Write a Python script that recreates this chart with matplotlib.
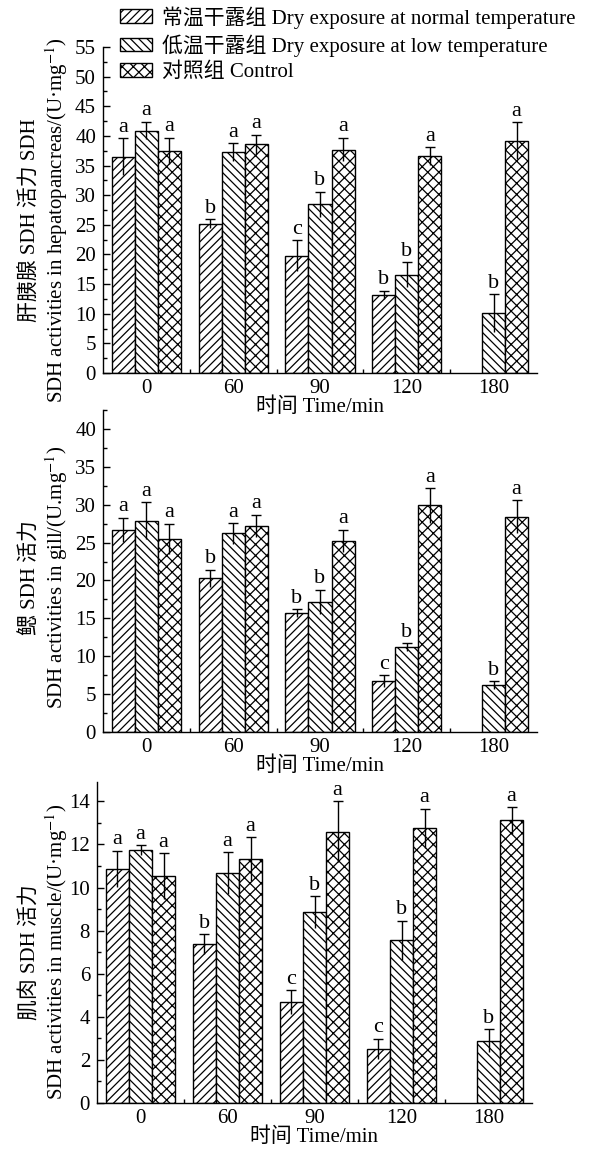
import numpy as np
import matplotlib
matplotlib.use("Agg")
import matplotlib.pyplot as plt
from matplotlib.ticker import MultipleLocator, FixedLocator

plt.rcParams['font.family'] = ['Liberation Serif', 'Noto Sans CJK SC']
plt.rcParams['mathtext.fontset'] = 'stix'
plt.rcParams['hatch.linewidth'] = 0.9

# data
times = ['0', '60', '90', '120', '180']
nan = np.nan

hep_normal = [36.5, 25.2, 19.8, 13.2, nan]
hep_normal_err = [3.1, 0.7, 2.6, 0.7, nan]
hep_low = [40.9, 37.3, 28.5, 16.6, 10.1]
hep_low_err = [1.5, 1.5, 2.1, 2.1, 3.2]
hep_ctrl = [37.5, 38.6, 37.7, 36.6, 39.2]
hep_ctrl_err = [2.2, 1.6, 2.0, 1.5, 3.1]
hep_letters = [['a', 'b', 'c', 'b', ''], ['a', 'a', 'b', 'b', 'b'], ['a', 'a', 'a', 'a', 'a']]

gill_normal = [26.7, 20.3, 15.7, 6.7, nan]
gill_normal_err = [1.6, 1.1, 0.5, 0.8, nan]
gill_low = [27.9, 26.2, 17.2, 11.25, 6.2]
gill_low_err = [2.4, 1.4, 1.6, 0.5, 0.5]
gill_ctrl = [25.5, 27.2, 25.2, 29.9, 28.4]
gill_ctrl_err = [2.0, 1.5, 1.5, 2.3, 2.2]
gill_letters = [['a', 'b', 'b', 'c', ''], ['a', 'a', 'b', 'b', 'b'], ['a', 'a', 'a', 'a', 'a']]

mus_normal = [10.87, 7.38, 4.69, 2.52, nan]
mus_normal_err = [0.85, 0.46, 0.54, 0.46, nan]
mus_low = [11.75, 10.67, 8.85, 7.55, 2.89]
mus_low_err = [0.22, 0.96, 0.75, 0.91, 0.54]
mus_ctrl = [10.54, 11.32, 12.6, 12.75, 13.12]
mus_ctrl_err = [1.06, 1.02, 1.4, 0.91, 0.62]
mus_letters = [['a', 'b', 'c', 'c', ''], ['a', 'a', 'b', 'b', 'b'], ['a', 'a', 'a', 'a', 'a']]

labels = ['常温干露组 Dry exposure at normal temperature',
          '低温干露组 Dry exposure at low temperature',
          '对照组 Control']
hatches = ['////', '\\\\\\\\', 'xxx']

fig = plt.figure(figsize=(5.95, 11.54), dpi=100)
W, H = 595, 1154


def add_ax(left, top, right, bottom):
    return fig.add_axes([left / W, 1 - bottom / H, (right - left) / W, (bottom - top) / H])


ax1 = add_ax(103, 47, 537, 373)
ax2 = add_ax(103, 410, 537, 732)
ax3 = add_ax(97, 782, 532, 1103)

panels = [
    (ax1, [hep_normal, hep_low, hep_ctrl], [hep_normal_err, hep_low_err, hep_ctrl_err], hep_letters,
     55, 5, 2.5, '肝胰腺 SDH 活力 SDH\nSDH activities in hepatopancreas/(U·mg$^{-1}$)', 0.47),
    (ax2, [gill_normal, gill_low, gill_ctrl], [gill_normal_err, gill_low_err, gill_ctrl_err], gill_letters,
     42.5, 5, 2.5, '鳃 SDH 活力\nSDH activities in gill/(U.mg$^{-1}$)', 0.48),
    (ax3, [mus_normal, mus_low, mus_ctrl], [mus_normal_err, mus_low_err, mus_ctrl_err], mus_letters,
     14.9, 2, 1, '肌肉 SDH 活力\nSDH activities in muscle/(U·mg$^{-1}$)', 0.47),
]

x = np.arange(len(times))
w = 0.265

for ax, series, errs, letters, ymax, major, minor, ylab, ly in panels:
    ax.patch.set_visible(False)
    for i in range(3):
        vals = np.array(series[i], dtype=float)
        e = np.array(errs[i], dtype=float)
        xs = x + (i - 1) * w
        ax.bar(xs, vals, width=w, color='white', edgecolor='black', linewidth=1.0,
               hatch=hatches[i], label=labels[i], zorder=2)
        ax.errorbar(xs, vals, yerr=e, fmt='none', ecolor='black', elinewidth=1.0,
                    capsize=0, zorder=3)
        ax.plot(xs, vals + e, ls='none', marker='_', ms=7, mew=1.0, color='black', zorder=3)
        for xi, top, lt in zip(xs, vals + e, letters[i]):
            if lt and not np.isnan(top):
                ax.annotate(lt, (xi, top), xytext=(0, 1), textcoords='offset points',
                            ha='center', va='bottom', fontsize=16)
    ax.set_xlim(-0.5, 4.5)
    ax.set_ylim(0, ymax)
    ax.spines['top'].set_visible(False)
    ax.spines['right'].set_visible(False)
    ax.spines['left'].set_linewidth(1.0)
    ax.spines['bottom'].set_linewidth(1.0)
    ax.set_xticks(x)
    ax.set_xticklabels(times)
    ax.xaxis.set_minor_locator(FixedLocator(x[:-1] + 0.5))
    ax.yaxis.set_major_locator(MultipleLocator(major))
    ax.yaxis.set_minor_locator(MultipleLocator(minor))
    ax.tick_params(axis='x', which='major', length=0, labelsize=15, pad=4)
    ax.tick_params(axis='x', which='minor', direction='in', length=3, width=1)
    ax.tick_params(axis='y', which='major', direction='in', length=5, width=1, labelsize=15, pad=5)
    ax.tick_params(axis='y', which='minor', direction='in', length=3, width=1)
    ax.set_xlabel('时间 Time/min', fontsize=15, labelpad=0)
    ax.set_ylabel(ylab, fontsize=15, linespacing=1.15)
    left_px = ax.get_position().x0 * W
    width_px = ax.get_position().width * W
    ax.yaxis.set_label_coords((70 - left_px) / width_px, ly)

ax1.legend(loc='upper left', bbox_to_anchor=(120 / W, 1 - 6 / H), bbox_transform=fig.transFigure,
           frameon=False, fontsize=15, handlelength=1.55, handleheight=0.65,
           handletextpad=0.45, labelspacing=0.28, borderaxespad=0, borderpad=0)

fig.savefig('out.png', dpi=100)
